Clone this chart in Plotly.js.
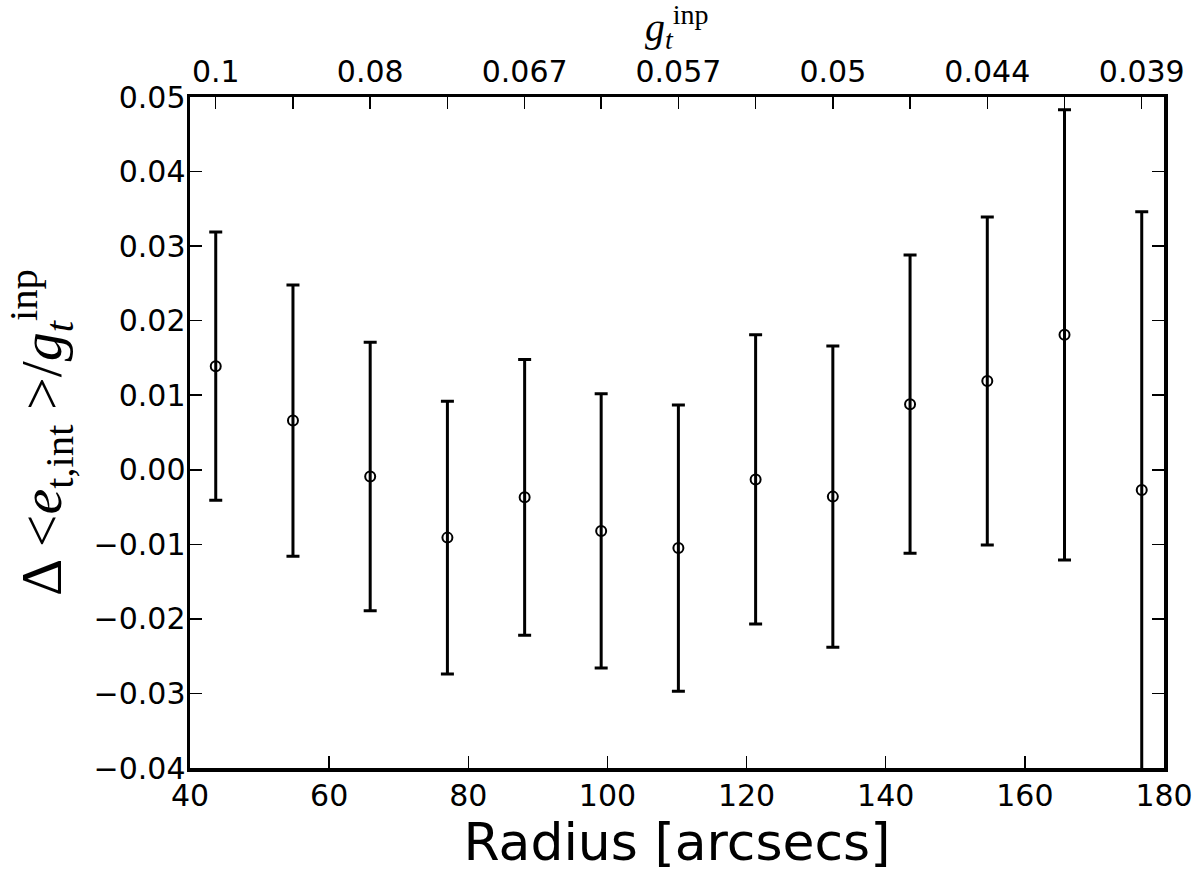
<!DOCTYPE html>
<html>
<head>
<meta charset="utf-8">
<script src="https://cdn.plot.ly/plotly-3.0.1.min.js"></script>
<style>html,body{margin:0;padding:0;background:#fff;}#chart{width:1200px;height:876px;}</style>
</head>
<body>
<div id="chart"></div>
<script>
// Radius bins [arcsec]
const radius = [43.7, 54.8, 65.9, 77.0, 88.1, 99.1, 110.2, 121.3, 132.4, 143.5, 154.6, 165.7, 176.8];
// Δ<e_t,int>/g_t^inp
const deltaE = [0.0139, 0.0066, -0.0009, -0.0091, -0.0037, -0.0082, -0.0105, -0.0013, -0.0036, 0.0088, 0.0119, 0.0181, -0.0027];
// upper / lower 1-sigma errors (last lower bar runs off the bottom of the plot)
const errPlus  = [0.0180, 0.0182, 0.0180, 0.0183, 0.0185, 0.0184, 0.0192, 0.0194, 0.0202, 0.0200, 0.0220, 0.0302, 0.0373];
const errMinus = [0.0180, 0.0182, 0.0180, 0.0183, 0.0185, 0.0184, 0.0192, 0.0194, 0.0202, 0.0200, 0.0220, 0.0302, 0.0450];
// top axis labels (input shear)
const topLabels = ["0.1", "", "0.08", "", "0.067", "", "0.057", "", "0.05", "", "0.044", "", "0.039"];
const topTitle = "<i>g</i><sub><i>t</i></sub><sup>inp</sup>";

const tickFont = {family: "DejaVu Sans", size: 30, color: "#000"};

const traces = [
  {
    x: radius, y: deltaE, type: "scatter", mode: "markers",
    marker: {symbol: "circle-open", size: 10, color: "#000", line: {color: "#000", width: 2}},
    error_y: {type: "data", symmetric: false, array: errPlus, arrayminus: errMinus, visible: true, color: "#000", thickness: 3, width: 6.5},
    showlegend: false, hoverinfo: "x+y"
  },
  {
    x: radius, y: deltaE, xaxis: "x2", type: "scatter", mode: "markers",
    marker: {size: 1, opacity: 0}, showlegend: false, hoverinfo: "skip"
  }
];

const layout = {
  width: 1200, height: 876,
  paper_bgcolor: "#fff", plot_bgcolor: "#fff",
  margin: {l: 190, r: 36, t: 97, b: 108},
  showlegend: false,
  xaxis: {
    range: [40, 180], dtick: 20, tick0: 40,
    ticks: "inside", ticklen: 12, tickwidth: 1.5, tickcolor: "#000",
    showline: true, linewidth: 3.5, linecolor: "#000", mirror: true,
    showgrid: false, zeroline: false,
    tickfont: tickFont, ticklabelstandoff: -2,
    title: {text: "Radius [arcsecs]", font: {family: "DejaVu Sans", size: 52, color: "#000"}, standoff: 8},
    automargin: false
  },
  xaxis2: {
    overlaying: "x", side: "top", range: [40, 180],
    tickmode: "array", tickvals: radius, ticktext: topLabels,
    ticks: "inside", ticklen: 12, tickwidth: 1.5, tickcolor: "#000",
    showline: false, showgrid: false, zeroline: false,
    tickfont: tickFont, ticklabelstandoff: 8,
    automargin: false
  },
  yaxis: {
    range: [-0.04, 0.05], dtick: 0.01, tick0: 0, tickformat: ".2f",
    ticks: "inside", ticklen: 12, tickwidth: 1.5, tickcolor: "#000",
    showline: true, linewidth: 3.5, linecolor: "#000", mirror: "ticks",
    showgrid: false, zeroline: false,
    tickfont: tickFont, ticklabelstandoff: -5,
    title: {text: "Δ &lt;<i>e</i><sub>t,int</sub> &gt;/<i>g</i><sub><i>t</i></sub><sup>inp</sup>", font: {family: "Liberation Serif", size: 58, color: "#000"}, standoff: 14},
    automargin: false
  },
  annotations: [
    {
      text: topTitle, xref: "paper", yref: "paper", x: 0.5, y: 1,
      xanchor: "center", yanchor: "bottom", yshift: 40, showarrow: false,
      font: {family: "Liberation Serif", size: 40, color: "#000"}
    }
  ]
};

Plotly.newPlot("chart", traces, layout, {displayModeBar: false, staticPlot: true});
</script>
</body>
</html>
